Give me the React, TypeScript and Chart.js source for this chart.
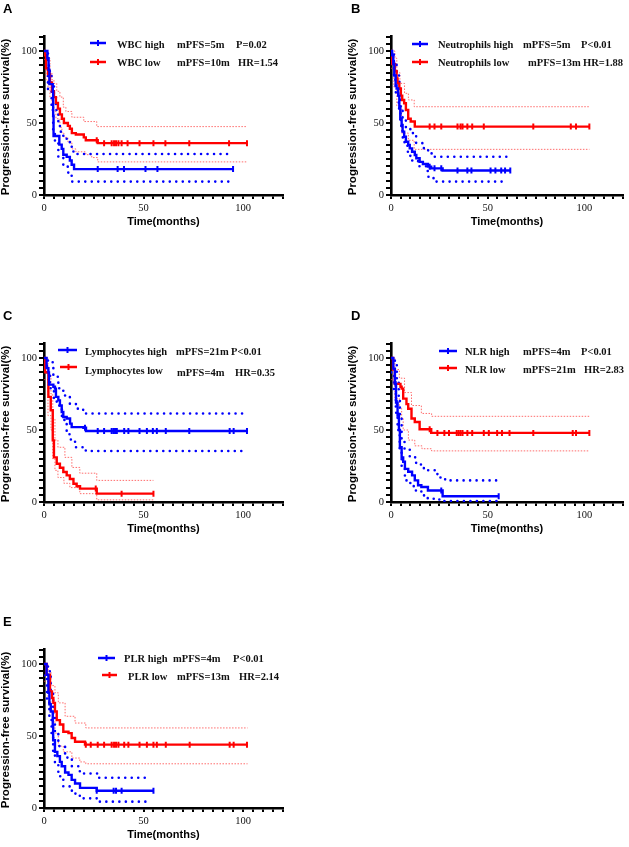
import React, { useEffect, useRef } from 'react';
import { Chart, registerables } from 'chart.js';
Chart.register(...registerables);

type P = [number, number];

// ---------- Panel A: WBC ----------
const wbcHigh: P[] = [[0,100],[1.7,95],[2.3,87],[2.7,77],[4.4,72],[4.6,55],[4.8,41],[7.7,35],[8.9,32],[9.7,28],[11.4,26.5],[13,24],[13.9,21],[15.1,18],[95,18]];
const wbcHighUp: P[] = [[0,100],[2,92],[2.5,86],[3.8,77.5],[5,68],[6,59],[7.2,51],[8,44],[9.7,40.5],[11.4,37],[13,33.5],[14.8,28.5],[94,28.5]];
const wbcHighLo: P[] = [[0,98],[1,88],[2,73],[3.8,59],[4.6,43],[5.5,36],[7.2,26.6],[9.7,19.7],[12.2,15],[13.9,9.3],[93,9.3]];
const wbcHighCensor = [27, 37, 40.2, 51, 57, 95];
const wbcLow: P[] = [[0,100],[0.3,97],[1,88],[2,84],[3,78],[4,72],[5,68],[6,64],[7,60],[8,56],[9,53],[10,50],[12,48],[13,46],[14,43],[16,42],[20,40],[21,38],[27,36],[102,36]];
const wbcLowUp: P[] = [[0,100],[1,95],[3,85],[4,80],[5,77.5],[6.4,72],[8,68],[9.7,61],[11,58],[14,54],[20,51],[26.5,47.5],[102,47.5]];
const wbcLowLo: P[] = [[0,94],[1,80],[2,75],[3,68],[4,62],[5,58],[6,53],[8,47],[9,43],[10,40],[12,37],[14,32],[16,30],[21,28],[24,26],[27,23],[102,23]];
const wbcLowCensor = [26.5, 30.2, 34, 35.2, 36.2, 37.4, 39, 42, 48, 55, 61, 73, 93, 102];
const legendA = ['WBC high', 'mPFS=5m', 'P=0.02', 'WBC low', 'mPFS=10m', 'HR=1.54'];

// ---------- Panel B: Neutrophils ----------
const neutHigh: P[] = [[0,100],[0.6,97],[1.2,91],[1.7,83],[2.4,76],[2.9,74],[3.7,69],[4.3,61],[4.8,53],[5.5,48.6],[6,44],[6.8,40.5],[7.7,37],[8.9,34.7],[9.7,32.4],[10.9,30],[12.3,27.8],[13.1,25.5],[14.8,23],[16.5,21.5],[19.1,19.7],[20.8,18.5],[26.7,17],[61.7,17]];
const neutHighUp: P[] = [[0,100],[1.5,92],[2.9,83],[4.3,72],[5,59],[6,52],[7.7,47],[10,43],[13,36],[17,31],[21,26.6],[60,26.6]];
const neutHighLo: P[] = [[0,95],[1.5,80],[2.5,70],[4,60],[5,48],[6,40],[7,35],[8.5,30],[10,24],[14,20],[19,12.7],[22,9.3],[60,9.3]];
const neutHighCensor = [20, 22.5, 26, 34.4, 39.5, 41.6, 51.5, 54, 57, 59, 61.7];
const neutLow: P[] = [[0,100],[0.3,91],[2,86],[2.9,81],[3.4,77.5],[4.3,74],[5.1,69],[5.8,66],[6.8,63.7],[7.7,59],[8.9,53],[10.2,51],[12.3,47.5],[102.6,47.5]];
const neutLowUp: P[] = [[0,100],[2,95],[3,85],[4.6,77.5],[7,70.6],[9,66],[12,61.3],[102.6,61.3]];
const neutLowLo: P[] = [[0,88],[1.5,75],[3,62],[5.5,43],[9,38],[12,31.7],[102.6,31.7]];
const neutLowCensor = [20, 22.5, 26, 34.4, 36, 37, 39.5, 42, 48, 73.6, 93, 95.7, 102.6];
const legendB = ['Neutrophils high', 'mPFS=5m', 'P<0.01', 'Neutrophils low', 'mPFS=13m', 'HR=1.88'];

// ---------- Panel C: Lymphocytes ----------
const lymHigh: P[] = [[0,100],[1.3,93],[2.2,90],[2.5,81.5],[4.7,80],[5.5,78.7],[6,73],[7.2,70.6],[8,67],[8.9,62.5],[9.7,59],[11.4,58],[13.1,54.4],[13.9,52],[19.8,51.6],[21.1,49.3],[102.3,49.3]];
const lymHighUp: P[] = [[0,100],[2,97],[4.7,87],[7.2,79],[9.7,74],[13,68],[17,64],[20.6,61.5],[101,61.5]];
const lymHighLo: P[] = [[0,97],[1.5,88],[3,79],[5,72],[6.4,67],[9,57],[11.4,47],[13.5,42],[15.6,38],[21,35.4],[101,35.4]];
const lymHighCensor = [20.6, 27, 30.2, 34, 34.9, 35.7, 36.6, 40.3, 42.4, 48, 51.7, 54.7, 56.7, 61.2, 73, 93.3, 95.3, 102];
const lymLow: P[] = [[0,100],[0.5,90],[2.2,73],[3.4,63.7],[4.4,42.8],[5,31],[6.4,26.6],[8,23.8],[9.7,20.8],[11.4,18.5],[13,16],[14.8,12.7],[16.4,10.9],[18.1,9.3],[26.5,5.8],[55,5.8]];
const lymLowUp: P[] = [[0,100],[2,88],[3.5,75],[4.4,58],[5.5,43],[7,38],[10.5,31],[14,24],[18,20],[26.5,15],[55,15]];
const lymLowLo: P[] = [[0,85],[2,60],[3.5,50],[4.4,30],[5.5,22],[7,17],[10,13],[13,10],[18,5.8],[26.5,1.5],[55,1.5]];
const lymLowCensor = [26, 39, 55];
const legendC = ['Lymphocytes high', 'mPFS=21m', 'P<0.01', 'Lymphocytes low', 'mPFS=4m', 'HR=0.35'];

// ---------- Panel D: NLR ----------
const nlrHigh: P[] = [[0,100],[1.2,92.6],[2,82],[2.6,69],[3.4,60],[4.1,50],[4.6,38],[5.5,31],[6.3,28],[7.2,23],[8.9,21],[10.9,18.5],[12.3,15],[14,11.6],[15.7,10.4],[19.1,8],[26.7,4],[55.7,4]];
const nlrHighUp: P[] = [[0,100],[2,95],[3,85],[4,72],[4.6,60],[5.5,43],[7,37],[9.7,31],[13,26],[17,22],[24,17],[28,15],[55,15]];
const nlrHighLo: P[] = [[0,90],[1.5,78],[2.5,62],[3.4,50],[4.5,36],[5.5,24],[7.2,15],[10,11],[12.3,8],[15.7,4.6],[19,2.3],[25,0.7],[55,0.7]];
const nlrHighCensor = [2.4, 3, 3.8, 26, 55.7];
const nlrLow: P[] = [[0,100],[1,92],[2,82],[4.9,80],[5.5,78.7],[6.3,71.8],[8,68],[8.9,64.8],[10.6,58],[12.3,55.6],[14.8,50.5],[20.8,48],[102.6,48]];
const nlrLowUp: P[] = [[0,100],[2,92],[4.3,86],[7,76],[10.6,67],[15.7,61.5],[21,59.5],[102.6,59.5]];
const nlrLowLo: P[] = [[0,85],[2,72],[4.3,65],[5.5,58],[6.3,50],[9,43],[12.3,39],[16,37],[21,35.5],[102.6,35.5]];
const nlrLowCensor = [20, 24, 27.6, 30, 34, 35, 36, 37, 39.5, 42, 48, 50.6, 54.9, 57.4, 61.3, 73.6, 94, 95.7, 102.6];
const legendD = ['NLR high', 'mPFS=4m', 'P<0.01', 'NLR low', 'mPFS=21m', 'HR=2.83'];

// ---------- Panel E: PLR ----------
const plrHigh: P[] = [[0,100],[1.3,92.5],[2.2,80],[2.7,72],[3.4,67],[4.4,57],[4.6,47],[5.5,39],[6.7,36],[8,32],[8.9,29],[10.6,24.7],[12.3,23],[13.9,19.5],[15.6,17],[18.1,14],[26.5,12],[55,12]];
const plrHighUp: P[] = [[0,100],[2,95],[3.4,82],[4.6,65],[5.5,52],[7.2,43],[10.6,35],[14,29],[18,24],[27,21],[52,21]];
const plrHighLo: P[] = [[0,92],[1.5,76],[2.7,62],[3.8,50],[4.6,38],[5.5,30],[7.2,22],[9.7,15],[14,10],[18,6.7],[27,4.4],[53,4.4]];
const plrHighCensor = [26.5, 35, 36.2, 39, 55];
const plrLow: P[] = [[0,100],[1.3,92.5],[3,81],[4,76.5],[4.7,73],[5.5,67],[6.4,61],[8,58],[9.7,53],[12.3,52],[13.9,48.6],[15.6,46],[20.6,44],[102.3,44]];
const plrLowUp: P[] = [[0,100],[2,95],[3.5,85],[5.5,80],[7.2,73],[10.6,63.7],[15.6,59],[21,55.6],[102.3,55.6]];
const plrLowLo: P[] = [[0,88],[2,76],[3.5,68],[4.7,60],[5.5,52],[7.2,43],[9.7,39],[14,34.7],[18,32],[21,30.7],[102.3,30.7]];
const plrLowCensor = [21, 23.5, 27, 30.2, 34, 35.2, 36.2, 37.4, 40.3, 42.4, 48, 51.7, 55, 56.7, 61.2, 73.2, 93.3, 95.3, 102];
const legendE = ['PLR high', 'mPFS=4m', 'P<0.01', 'PLR low', 'mPFS=13m', 'HR=2.14'];

// ---------- axes ----------
const X_MAX = 120;
const Y_MAX = 110;
const TICK_STEP = 5;
const X_LABELS = [0, 50, 100];
const Y_LABELS = [0, 50, 100];
const X_TITLE = 'Time(months)';
const Y_TITLE = 'Progression-free survival(%)';

const BLUE = '#0000ff';
const RED = '#ff0000';
const Y_PER = 1.44;

interface Group { curve: P[]; up: P[]; lo: P[]; censor: number[] }
interface Spec {
  letter: string;
  box: { left: number; top: number; width: number; height: number };
  x0: number; xPer: number; yb: number;
  letterX: number; yTitleX: number;
  high: Group; low: Group;
  legend: string[];
  lines: { x1: number; x2: number; y: number }[];
  textPos: [number, number][];
}

const panels: Spec[] = [
  {
    letter: 'A', box: { left: 0, top: 0, width: 314, height: 232 }, x0: 44, xPer: 1.99, yb: 195,
    letterX: 3, yTitleX: 6,
    high: { curve: wbcHigh, up: wbcHighUp, lo: wbcHighLo, censor: wbcHighCensor },
    low: { curve: wbcLow, up: wbcLowUp, lo: wbcLowLo, censor: wbcLowCensor },
    legend: legendA,
    lines: [{ x1: 90, x2: 106, y: 43 }, { x1: 90, x2: 106, y: 62 }],
    textPos: [[117, 45], [177, 45], [236, 45], [117, 63], [177, 63], [238, 63]],
  },
  {
    letter: 'B', box: { left: 314, top: 0, width: 315, height: 232 }, x0: 391, xPer: 1.96, yb: 195,
    letterX: 351, yTitleX: 353,
    high: { curve: neutHigh, up: neutHighUp, lo: neutHighLo, censor: neutHighCensor },
    low: { curve: neutLow, up: neutLowUp, lo: neutLowLo, censor: neutLowCensor },
    legend: legendB,
    lines: [{ x1: 412, x2: 428, y: 44 }, { x1: 412, x2: 428, y: 62 }],
    textPos: [[438, 45], [523, 45], [581, 45], [438, 63], [528, 63], [583, 63]],
  },
  {
    letter: 'C', box: { left: 0, top: 232, width: 314, height: 306 }, x0: 44, xPer: 1.99, yb: 502,
    letterX: 3, yTitleX: 6,
    high: { curve: lymHigh, up: lymHighUp, lo: lymHighLo, censor: lymHighCensor },
    low: { curve: lymLow, up: lymLowUp, lo: lymLowLo, censor: lymLowCensor },
    legend: legendC,
    lines: [{ x1: 58, x2: 77, y: 350 }, { x1: 60, x2: 77, y: 367 }],
    textPos: [[85, 352], [176, 352], [231, 352], [85, 371], [177, 373], [235, 373]],
  },
  {
    letter: 'D', box: { left: 314, top: 232, width: 315, height: 306 }, x0: 391, xPer: 1.96, yb: 502,
    letterX: 351, yTitleX: 353,
    high: { curve: nlrHigh, up: nlrHighUp, lo: nlrHighLo, censor: nlrHighCensor },
    low: { curve: nlrLow, up: nlrLowUp, lo: nlrLowLo, censor: nlrLowCensor },
    legend: legendD,
    lines: [{ x1: 439, x2: 457, y: 351 }, { x1: 439, x2: 457, y: 368 }],
    textPos: [[465, 352], [523, 352], [581, 352], [465, 370], [523, 370], [584, 370]],
  },
  {
    letter: 'E', box: { left: 0, top: 538, width: 314, height: 309 }, x0: 44, xPer: 1.99, yb: 808,
    letterX: 3, yTitleX: 6,
    high: { curve: plrHigh, up: plrHighUp, lo: plrHighLo, censor: plrHighCensor },
    low: { curve: plrLow, up: plrLowUp, lo: plrLowLo, censor: plrLowCensor },
    legend: legendE,
    lines: [{ x1: 98, x2: 115, y: 658 }, { x1: 102, x2: 117, y: 675 }],
    textPos: [[124, 659], [173, 659], [233, 659], [128, 677], [177, 677], [239, 677]],
  },
];

function survAt(curve: P[], t: number): number {
  let v = curve[0][1];
  for (const [x, y] of curve) if (x <= t) v = y;
  return v;
}

function stepLine(pts: P[], color: string, width: number, dash: number[], cap: CanvasLineCap) {
  return {
    type: 'line' as const,
    data: pts.map(([x, y]) => ({ x, y })),
    stepped: 'before' as const,
    borderColor: color,
    borderWidth: width,
    borderDash: dash,
    borderCapStyle: cap,
    pointRadius: 0,
    fill: false,
    tension: 0,
  };
}

function censorSet(g: Group, color: string) {
  return {
    type: 'scatter' as const,
    data: g.censor.map((t) => ({ x: t, y: survAt(g.curve, t) })),
    pointStyle: 'line' as const,
    pointRotation: 90,
    pointRadius: 3,
    borderWidth: 2,
    borderColor: color,
    backgroundColor: color,
    pointBorderColor: color,
    pointBorderWidth: 2,
    showLine: false,
  };
}

function makeChart(canvas: HTMLCanvasElement, s: Spec) {
  const cx = s.box.left, cy = s.box.top;
  const areaLeft = s.x0 - cx;
  const areaRight = areaLeft + X_MAX * s.xPer;
  const areaBottom = s.yb - cy;
  const areaTop = areaBottom - Y_MAX * Y_PER;
  const YW = 40, XH = 20;

  const textPlugin = {
    id: 'panelText' + s.letter,
    afterDraw(chart: any) {
      const ctx: CanvasRenderingContext2D = chart.ctx;
      ctx.save();
      ctx.fillStyle = '#000';
      // panel letter
      ctx.font = 'bold 13px "Liberation Sans", Arial, sans-serif';
      ctx.textAlign = 'left';
      ctx.textBaseline = 'alphabetic';
      ctx.fillText(s.letter, s.letterX - cx, (s.yb - 182) - cy);
      // x title
      ctx.font = 'bold 11px "Liberation Sans", Arial, sans-serif';
      ctx.textAlign = 'center';
      ctx.textBaseline = 'middle';
      const ca = chart.chartArea;
      ctx.fillText(X_TITLE, (ca.left + ca.right) / 2, areaBottom + 27);
      // y title
      ctx.save();
      ctx.translate(s.yTitleX - cx, areaBottom - 78);
      ctx.rotate(-Math.PI / 2);
      ctx.font = 'bold 11.5px "Liberation Sans", Arial, sans-serif';
      ctx.fillText(Y_TITLE, 0, 0);
      ctx.restore();
      // legend
      const cols = [BLUE, RED];
      s.lines.forEach((l, i) => {
        ctx.strokeStyle = cols[i];
        ctx.lineWidth = 2.5;
        ctx.beginPath();
        ctx.moveTo(l.x1 - cx, l.y - cy);
        ctx.lineTo(l.x2 - cx, l.y - cy);
        ctx.stroke();
        ctx.lineWidth = 2;
        const mx = (l.x1 + l.x2) / 2 - cx;
        ctx.beginPath();
        ctx.moveTo(mx, l.y - cy - 3);
        ctx.lineTo(mx, l.y - cy + 3);
        ctx.stroke();
      });
      ctx.font = 'bold 10.5px "Liberation Serif", "Times New Roman", serif';
      ctx.textAlign = 'left';
      ctx.textBaseline = 'middle';
      ctx.fillStyle = '#111';
      s.legend.forEach((t, i) => {
        const [x, y] = s.textPos[i];
        ctx.fillText(t, x - cx, y - cy);
      });
      ctx.restore();
    },
  };

  const gridOpts = (len: number) => ({
    display: true,
    drawOnChartArea: false,
    drawTicks: true,
    tickLength: len,
    color: '#000',
    lineWidth: 2,
  });

  return new Chart(canvas, {
    type: 'line',
    data: {
      datasets: [
        censorSet(s.high, BLUE),
        censorSet(s.low, RED),
        stepLine(s.high.curve, BLUE, 2.4, [], 'butt'),
        stepLine(s.low.curve, RED, 2.4, [], 'butt'),
        stepLine(s.high.up, BLUE, 2.6, [0, 6.5], 'round'),
        stepLine(s.high.lo, BLUE, 2.6, [0, 6.5], 'round'),
        stepLine(s.low.up, 'rgba(255,60,60,0.75)', 1, [1.5, 1.5], 'butt'),
        stepLine(s.low.lo, 'rgba(255,60,60,0.75)', 1, [1.5, 1.5], 'butt'),
      ] as any,
    },
    options: {
      responsive: false,
      animation: false,
      layout: {
        padding: {
          left: areaLeft - YW,
          right: s.box.width - areaRight,
          top: areaTop,
          bottom: s.box.height - areaBottom - XH,
        },
      },
      plugins: { legend: { display: false }, tooltip: { enabled: false } },
      scales: {
        x: {
          type: 'linear',
          min: 0,
          max: X_MAX,
          afterFit: (sc: any) => { sc.height = XH; },
          ticks: {
            stepSize: TICK_STEP,
            autoSkip: false,
            maxRotation: 0,
            padding: 3,
            color: '#111',
            font: { family: '"Liberation Serif", "Times New Roman", serif', size: 10.5 },
            callback: (v: any) => (X_LABELS.includes(Number(v)) ? String(v) : ''),
          },
          grid: gridOpts(4),
          border: { display: true, color: '#000', width: 2.6 },
        },
        y: {
          type: 'linear',
          min: 0,
          max: Y_MAX,
          afterFit: (sc: any) => { sc.width = YW; },
          ticks: {
            stepSize: TICK_STEP,
            autoSkip: false,
            padding: 2,
            color: '#111',
            font: { family: '"Liberation Serif", "Times New Roman", serif', size: 10.5 },
            callback: (v: any) => (Y_LABELS.includes(Number(v)) ? String(v) : ''),
          },
          grid: gridOpts(5),
          border: { display: true, color: '#000', width: 2.6 },
        },
      },
    } as any,
    plugins: [textPlugin],
  });
}

function Panel({ spec }: { spec: Spec }) {
  const ref = useRef<HTMLCanvasElement>(null);
  useEffect(() => {
    if (!ref.current) return;
    const chart = makeChart(ref.current, spec);
    return () => chart.destroy();
  }, [spec]);
  return (
    <canvas
      ref={ref}
      width={spec.box.width}
      height={spec.box.height}
      style={{
        position: 'absolute',
        left: spec.box.left,
        top: spec.box.top,
        width: spec.box.width,
        height: spec.box.height,
      }}
    />
  );
}

export default function App() {
  return (
    <div style={{ position: 'absolute', left: 0, top: 0, width: 629, height: 847, background: '#fff', overflow: 'hidden' }}>
      {panels.map((p) => (
        <Panel key={p.letter} spec={p} />
      ))}
    </div>
  );
}
